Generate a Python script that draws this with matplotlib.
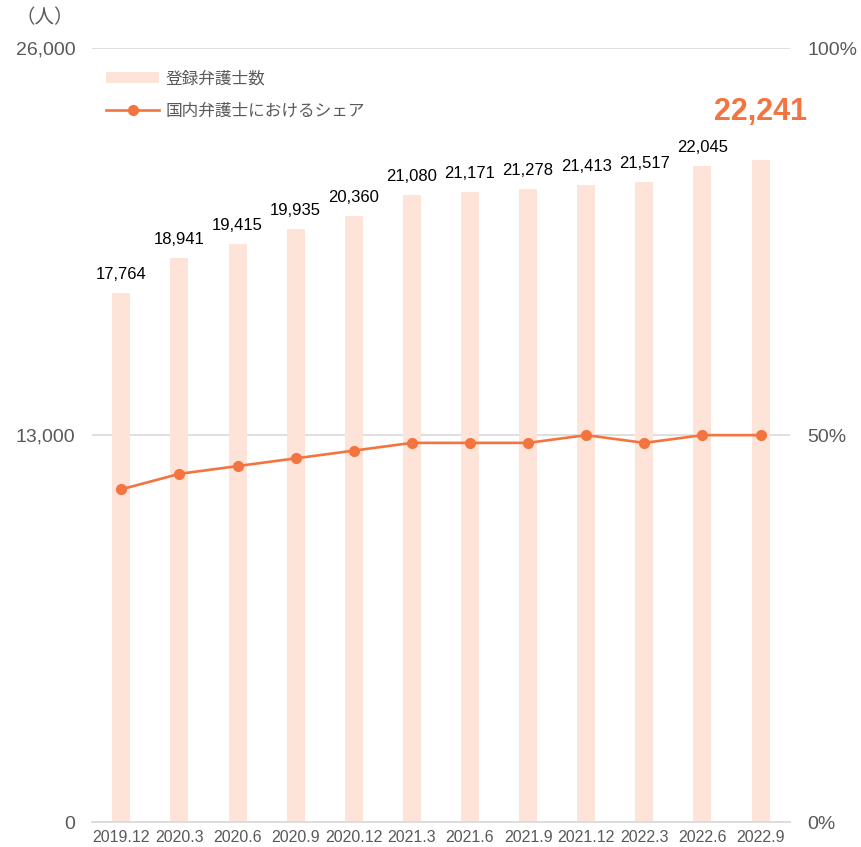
import matplotlib.pyplot as plt
from matplotlib.lines import Line2D
from matplotlib.patches import Patch

plt.rcParams['font.family'] = ['Liberation Sans', 'Noto Sans CJK JP', 'DejaVu Sans']

periods = ["2019.12", "2020.3", "2020.6", "2020.9", "2020.12", "2021.3",
           "2021.6", "2021.9", "2021.12", "2022.3", "2022.6", "2022.9"]
lawyers = [17764, 18941, 19415, 19935, 20360, 21080,
           21171, 21278, 21413, 21517, 22045, 22241]
share = [43.0, 45.0, 46.0, 47.0, 48.0, 49.0, 49.0, 49.0, 50.0, 49.0, 50.0, 50.0]

bar_color = "#FDE3D8"
line_color = "#F4743F"
gray = "#595959"

fig = plt.figure(figsize=(8.62, 8.47), dpi=100)
ax = fig.add_axes([0.107, 0.0295, 0.809, 0.9135])
x = list(range(len(periods)))

ax.bar(x, lawyers, width=0.31, color=bar_color, zorder=2)
ax.set_xlim(-0.5, len(periods) - 0.5)
ax.set_ylim(0, 26000)
ax.set_yticks([0, 13000, 26000])
ax.set_yticklabels(["0", "13,000", "26,000"])
ax.grid(axis="y", color="#D9D9D9", linewidth=1.2, zorder=0)
for s in ["top", "right", "left"]:
    ax.spines[s].set_visible(False)
ax.spines["bottom"].set_color("#D9D9D9")
ax.spines["bottom"].set_linewidth(1.2)
ax.tick_params(axis="y", length=0, labelsize=14, labelcolor=gray, pad=12)
ax.tick_params(axis="x", length=0, labelsize=11.5, labelcolor=gray, pad=6)
ax.set_xticks(x)
ax.set_xticklabels(periods)

for i, v in enumerate(lawyers[:-1]):
    ax.annotate(f"{v:,}", (i, v), xytext=(0, 8), textcoords="offset points",
                ha="center", va="bottom", fontsize=12, color="black")
ax.annotate(f"{lawyers[-1]:,}", (x[-1], lawyers[-1]), xytext=(0, 24),
            textcoords="offset points", ha="center", va="bottom",
            fontsize=22, fontweight="bold", color=line_color)

ax2 = ax.twinx()
ax2.plot(x, share, color=line_color, linewidth=1.9, marker="o", markersize=7, zorder=3)
ax2.set_ylim(0, 100)
ax2.set_yticks([0, 50, 100])
ax2.set_yticklabels(["0%", "50%", "100%"])
for s in ["top", "right", "left", "bottom"]:
    ax2.spines[s].set_visible(False)
ax2.tick_params(axis="y", length=0, labelsize=14, labelcolor=gray, pad=13)

handles = [Patch(facecolor=bar_color, edgecolor="none"),
           Line2D([0], [0], color=line_color, linewidth=1.9, marker="o", markersize=7)]
ax.legend(handles, ["登録弁護士数", "国内弁護士におけるシェア"], loc="upper left",
          bbox_to_anchor=(-0.002, 0.99), frameon=False, fontsize=12, labelcolor=gray,
          handlelength=3.2, handleheight=0.6, handletextpad=0.4, labelspacing=1.0)

fig.text(0.018, 0.979, "（人）", fontsize=14, color=gray, ha="left", va="center")

fig.savefig("out.png", dpi=100)
